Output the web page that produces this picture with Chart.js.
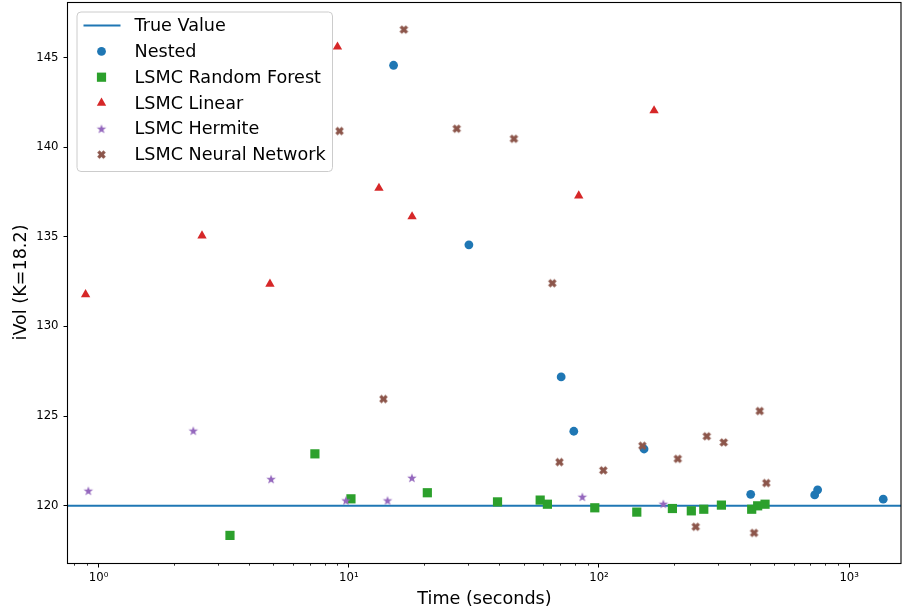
<!DOCTYPE html>
<html><head><meta charset="utf-8">
<script src="https://cdn.jsdelivr.net/npm/chart.js@4/dist/chart.umd.min.js"></script>
<style>html,body{margin:0;padding:0;background:#fff}#wrap{width:902px;height:616px;position:relative}</style>
</head><body><div id="wrap"><canvas id="c" width="902" height="616"></canvas></div>
<script>
// ---------------- data ----------------
const trueValue = 120;
const xLimits = [0.7545, 1611];
const yLimits = [116.8, 148.1];
const xTickValues = [1, 10, 100, 1000];
const xTickLabels = ['10\u2070', '10\u00B9', '10\u00B2', '10\u00B3'];
const yTickValues = [120, 125, 130, 135, 140, 145];
const yTickLabels = ['120', '125', '130', '135', '140', '145'];

const seriesNames = ['True Value', 'Nested', 'LSMC Random Forest', 'LSMC Linear', 'LSMC Hermite', 'LSMC Neural Network'];

const nestedX = [15.1, 30.2, 70.6, 79.3, 151.4, 404, 728, 748, 1368];
const nestedY = [144.57, 134.55, 127.18, 124.15, 123.16, 120.63, 120.6, 120.88, 120.36];

const rfX = [3.35, 7.32, 10.2, 20.6, 39.3, 58.2, 62.2, 96.2, 141.6, 196.5, 233.9, 262.3, 308.5, 407.7, 430.7, 461];
const rfY = [118.34, 122.89, 120.38, 120.72, 120.21, 120.31, 120.08, 119.88, 119.64, 119.84, 119.71, 119.80, 120.03, 119.80, 119.99, 120.08];

const linX = [0.887, 2.59, 4.84, 9.01, 13.2, 17.9, 83.0, 166];
const linY = [131.78, 135.06, 132.37, 145.6, 137.72, 136.13, 137.29, 142.04];

const herX = [0.91, 2.39, 4.89, 9.74, 14.28, 17.87, 85.8, 180.8];
const herY = [120.83, 124.18, 121.48, 120.29, 120.29, 121.55, 120.49, 120.10];

const nnX = [9.18, 13.76, 16.6, 27.0, 45.7, 65.1, 69.5, 104.1, 149.1, 206.5, 243.6, 269.6, 315.1, 416.7, 439.0, 466.6];
const nnY = [140.9, 125.95, 146.56, 141.03, 140.47, 132.41, 122.43, 121.97, 123.34, 122.61, 118.82, 123.87, 123.53, 118.48, 125.28, 121.26];

// ---------------- styles ----------------
const C_BLUE = '#1f77b4', C_GREEN = '#2ca02c', C_RED = '#d62728', C_PURPLE = '#9467bd', C_BROWN = '#8c564b';
const FONT = '"DejaVu Sans", "Liberation Sans", sans-serif';

function makeStar(color, outer, inner) {
  const s = Math.ceil(outer * 2 + 2);
  const c = document.createElement('canvas'); c.width = s; c.height = s;
  const g = c.getContext('2d'); g.translate(s / 2, s / 2 + 0.4);
  g.beginPath();
  for (let i = 0; i < 10; i++) {
    const r = i % 2 ? inner : outer;
    const a = -Math.PI / 2 + i * Math.PI / 5;
    g.lineTo(r * Math.cos(a), r * Math.sin(a));
  }
  g.closePath(); g.fillStyle = color; g.fill();
  return c;
}
function makeX(color, L, t) {
  const s = Math.ceil((L + t) / Math.SQRT2 + 2);
  const c = document.createElement('canvas'); c.width = s; c.height = s;
  const g = c.getContext('2d'); g.translate(s / 2, s / 2); g.rotate(Math.PI / 4);
  g.fillStyle = color;
  g.fillRect(-L / 2, -t / 2, L, t); g.fillRect(-t / 2, -L / 2, t, L);
  return c;
}
const starImg = makeStar(C_PURPLE, 5.0, 2.0);
const xImg = makeX(C_BROWN, 8.8, 3.4);

function pts(xs, ys) { return xs.map((x, i) => ({ x: x, y: ys[i] })); }

const markers = [
  { name: seriesNames[1], color: C_BLUE, style: 'circle', radius: 4.4 },
  { name: seriesNames[2], color: C_GREEN, style: 'rect', radius: 6.5 },
  { name: seriesNames[3], color: C_RED, style: 'triangle', radius: 5.4 },
  { name: seriesNames[4], color: C_PURPLE, style: starImg, radius: 5 },
  { name: seriesNames[5], color: C_BROWN, style: xImg, radius: 5 }
];
const seriesData = [pts(nestedX, nestedY), pts(rfX, rfY), pts(linX, linY), pts(herX, herY), pts(nnX, nnY)];

const datasets = [{
  type: 'line', label: seriesNames[0],
  data: [{ x: xLimits[0], y: trueValue }, { x: xLimits[1], y: trueValue }],
  borderColor: C_BLUE, borderWidth: 2, pointRadius: 0, fill: false, order: 10
}];
markers.forEach((m, i) => {
  datasets.push({
    type: 'scatter', label: m.name, data: seriesData[i],
    pointStyle: m.style, pointRadius: m.radius, pointHoverRadius: m.radius,
    backgroundColor: m.color, borderColor: m.color, borderWidth: 0,
    order: 5 - i
  });
});

// ---------------- plugins ----------------
function drawMarker(ctx, m, x, y) {
  ctx.save(); ctx.fillStyle = m.color;
  if (m.style === 'circle') { ctx.beginPath(); ctx.arc(x, y, m.radius, 0, Math.PI * 2); ctx.fill(); }
  else if (m.style === 'rect') { const s = m.radius * Math.SQRT1_2; ctx.fillRect(x - s, y - s, 2 * s, 2 * s); }
  else if (m.style === 'triangle') {
    const r = m.radius; ctx.beginPath();
    ctx.moveTo(x, y - r);
    ctx.lineTo(x + r * Math.sin(2 * Math.PI / 3), y - r * Math.cos(2 * Math.PI / 3));
    ctx.lineTo(x + r * Math.sin(4 * Math.PI / 3), y - r * Math.cos(4 * Math.PI / 3));
    ctx.closePath(); ctx.fill();
  } else { ctx.drawImage(m.style, x - m.style.width / 2, y - m.style.height / 2); }
  ctx.restore();
}

const mplPlugin = {
  id: 'mpl',
  afterDatasetsDraw(chart) {
    const ctx = chart.ctx, ca = chart.chartArea;
    const xs = chart.scales.x;
    ctx.save();
    // minor ticks on log axis
    ctx.strokeStyle = '#000'; ctx.lineWidth = 0.8;
    for (let k = -1; k <= 3; k++) {
      for (let m = 2; m <= 9; m++) {
        const v = m * Math.pow(10, k);
        if (v < xLimits[0] || v > xLimits[1]) continue;
        const px = Math.round(xs.getPixelForValue(v)) + 0.5;
        ctx.beginPath(); ctx.moveTo(px, ca.bottom); ctx.lineTo(px, ca.bottom + 2.7); ctx.stroke();
      }
    }
    // frame
    ctx.strokeStyle = '#000'; ctx.lineWidth = 1.1;
    ctx.strokeRect(ca.left - 0.5, ca.top + 0.5, ca.right - ca.left + 0.5, ca.bottom - ca.top);
    // legend
    const bx = ca.left + 9, by = ca.top + 10, bw = 255.5, bh = 159.5, r = 4;
    ctx.beginPath();
    ctx.moveTo(bx + r, by); ctx.lineTo(bx + bw - r, by); ctx.arcTo(bx + bw, by, bx + bw, by + r, r);
    ctx.lineTo(bx + bw, by + bh - r); ctx.arcTo(bx + bw, by + bh, bx + bw - r, by + bh, r);
    ctx.lineTo(bx + r, by + bh); ctx.arcTo(bx, by + bh, bx, by + bh - r, r);
    ctx.lineTo(bx, by + r); ctx.arcTo(bx, by, bx + r, by, r); ctx.closePath();
    ctx.fillStyle = 'rgba(255,255,255,0.8)'; ctx.fill();
    ctx.strokeStyle = '#cccccc'; ctx.lineWidth = 1; ctx.stroke();
    const rowY0 = by + 13.6, rowDY = 25.8, mx = bx + 24.5, tx = bx + 57.5;
    ctx.font = '17.6px ' + FONT; ctx.fillStyle = '#000'; ctx.textBaseline = 'middle'; ctx.textAlign = 'left';
    // true value line sample
    ctx.strokeStyle = C_BLUE; ctx.lineWidth = 2;
    ctx.beginPath(); ctx.moveTo(bx + 6.5, rowY0); ctx.lineTo(bx + 43.5, rowY0); ctx.stroke();
    ctx.fillText(seriesNames[0], tx, rowY0 + 1);
    markers.forEach((m, i) => {
      const y = rowY0 + rowDY * (i + 1);
      drawMarker(ctx, m, mx, y);
      ctx.fillStyle = '#000';
      ctx.fillText(m.name, tx, y + 1);
    });
    ctx.restore();
  }
};

function zeroPad(s) { s.paddingTop = 0; s.paddingBottom = 0; s.paddingLeft = 0; s.paddingRight = 0; }

// ---------------- chart ----------------
new Chart(document.getElementById('c'), {
  type: 'scatter',
  data: { datasets: datasets },
  options: {
    responsive: false, animation: false, devicePixelRatio: 1,
    layout: { autoPadding: false, padding: { top: 2, right: 1, left: 0, bottom: 0 } },
    plugins: { legend: { display: false }, tooltip: { enabled: false } },
    scales: {
      x: {
        type: 'logarithmic', min: xLimits[0], max: xLimits[1],
        afterBuildTicks: (s) => { s.ticks = xTickValues.map(v => ({ value: v })); },
        afterFit: (s) => { s.height = 53; zeroPad(s); },
        ticks: {
          autoSkip: false, maxRotation: 0, padding: 3, color: '#000',
          font: { family: FONT, size: 11.7 },
          callback: (v, i) => xTickLabels[i]
        },
        grid: { display: true, drawOnChartArea: false, drawTicks: true, tickLength: 4.5, tickColor: '#000', tickWidth: 1 },
        border: { display: false },
        title: { display: true, text: 'Time (seconds)', color: '#000', font: { family: FONT, size: 17.6 }, padding: { top: 0, bottom: 6 } }
      },
      y: {
        type: 'linear', min: yLimits[0], max: yLimits[1],
        afterBuildTicks: (s) => { s.ticks = yTickValues.map(v => ({ value: v })); },
        afterFit: (s) => { s.width = 68; zeroPad(s); },
        ticks: {
          padding: 5, color: '#000', font: { family: FONT, size: 11.7 },
          callback: (v, i) => yTickLabels[i]
        },
        grid: { display: true, drawOnChartArea: false, drawTicks: true, tickLength: 4.5, tickColor: '#000', tickWidth: 1 },
        border: { display: false },
        title: { display: true, text: 'iVol (K=18.2)', color: '#000', font: { family: FONT, size: 17.6 }, padding: { top: 10.5, bottom: 0 } }
      }
    }
  },
  plugins: [mplPlugin]
});
</script>
</body></html>
